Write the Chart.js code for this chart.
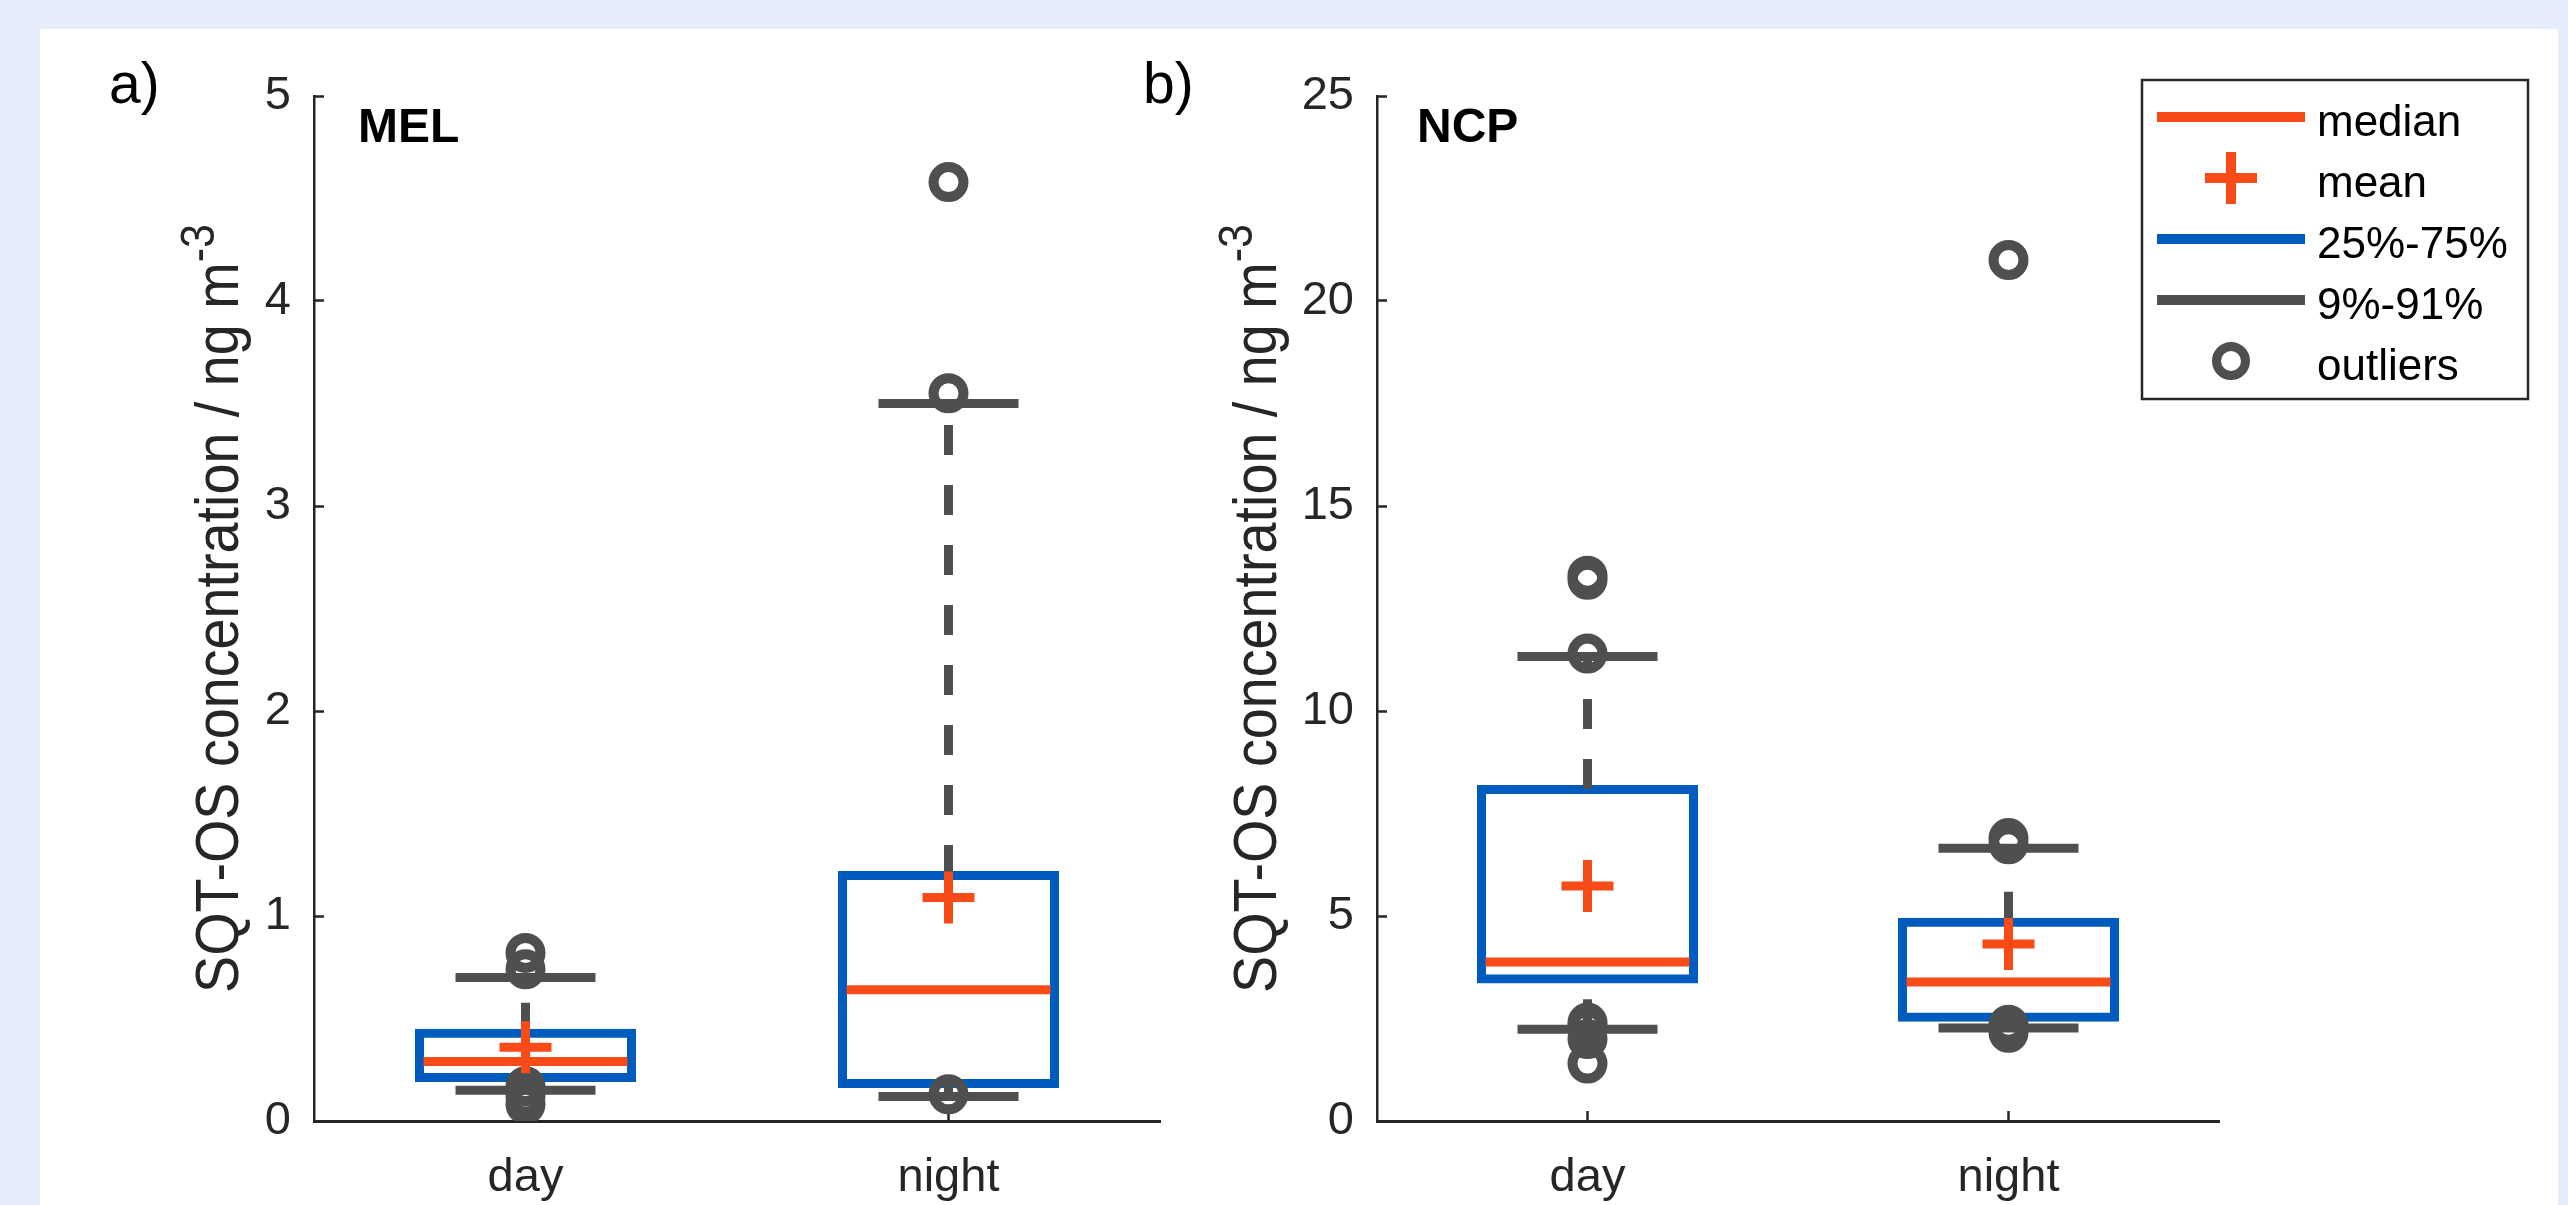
<!DOCTYPE html>
<html>
<head>
<meta charset="utf-8">
<title>SQT-OS concentration, MEL and NCP</title>
<script src="https://cdn.jsdelivr.net/npm/chart.js@4.4.1/dist/chart.umd.min.js"></script>
<style>
  html, body { margin: 0; padding: 0; background: #e6edfa; overflow: hidden; }
  #sheet { position: absolute; left: 40px; top: 29px; width: 2518px; height: 1176px; background: #fff; }
  canvas { position: absolute; left: 0; top: 0; }
</style>
</head>
<body>
<div id="sheet"></div>
<canvas id="melChart" width="2568" height="1205"></canvas>
<canvas id="ncpChart" width="2568" height="1205"></canvas>
<script>
// Box plot statistics
var categories = ['day', 'night'];

// a) MEL
var melQ25 = [0.21, 0.18];
var melQ75 = [0.43, 1.20];
var melMedian = [0.29, 0.64];
var melMean = [0.36, 1.09];
var melLow = [0.15, 0.12];    // 9 %
var melHigh = [0.70, 3.50];   // 91 %
var melOutDay = [0.82, 0.74, 0.17, 0.12, 0.08];
var melOutNight = [4.58, 3.55, 0.13];
var melTicks = [0, 1, 2, 3, 4, 5];

// b) NCP
var ncpQ25 = [3.45, 2.52];
var ncpQ75 = [8.10, 4.86];
var ncpMedian = [3.88, 3.39];
var ncpMean = [5.73, 4.32];
var ncpLow = [2.24, 2.27];
var ncpHigh = [11.33, 6.65];
var ncpOutDay = [13.3, 13.2, 11.4, 2.4, 2.3, 2.0, 1.4];
var ncpOutNight = [21.0, 6.9, 6.75, 2.35, 2.15];
var ncpTicks = [0, 5, 10, 15, 20, 25];

var FONT = '"Liberation Sans", Arial, Helvetica, sans-serif';
var AXIS = '#262626';
var ORANGE = '#f84b18';
var BLUE = '#005bbf';
var GREY = '#4f4f4f';
var LABEL_LENGTH = 769; // the y title is a little condensed in the original

/**
 * Draws panel letter, site name, y label (with superscript) and the legend
 */
var figureText = {
  id: 'figureText',
  afterDraw: function(chart, args, opts) {
    var ctx = chart.ctx;
    var area = chart.chartArea;
    ctx.save();
    ctx.textAlign = 'left';
    ctx.textBaseline = 'alphabetic';
    ctx.fillStyle = '#000';
    ctx.font = '57px ' + FONT;
    ctx.fillText(opts.letter, opts.letterX, 103);
    ctx.font = 'bold 48px ' + FONT;
    ctx.fillText(opts.site, area.left + opts.siteDx, 142);

    // rotated y axis title
    var main = 'SQT-OS concentration / ng m';
    var sup = '-3';
    ctx.font = '62px ' + FONT;
    var w1 = ctx.measureText(main).width;
    ctx.font = '48px ' + FONT;
    var w2 = ctx.measureText(sup).width;
    var squeeze = LABEL_LENGTH / (w1 + w2);
    var cy = (area.top + area.bottom) / 2;
    ctx.save();
    ctx.translate(opts.labelX, cy + LABEL_LENGTH / 2);
    ctx.rotate(-Math.PI / 2);
    ctx.scale(squeeze, 1);
    ctx.fillStyle = AXIS;
    ctx.font = '62px ' + FONT;
    ctx.fillText(main, 0, 0);
    ctx.font = '48px ' + FONT;
    ctx.fillText(sup, w1, -24);
    ctx.restore();

    if (opts.legend) drawLegend(chart, opts.legend);
    ctx.restore();
  }
};

function drawLegend(chart, lg) {
  var ctx = chart.ctx;
  var items = chart.data.datasets.filter(function(ds) {
    return ds.legendRank !== undefined;
  }).sort(function(a, b) { return a.legendRank - b.legendRank; });

  ctx.fillStyle = '#fff';
  ctx.fillRect(lg.x, lg.y, lg.w, lg.h);
  ctx.lineWidth = 2.5;
  ctx.strokeStyle = AXIS;
  ctx.strokeRect(lg.x, lg.y, lg.w, lg.h);

  var cx = lg.x + 89;
  items.forEach(function(ds, i) {
    var y = lg.y + 37 + i * 61;
    var color = ds.pointBorderColor || ds.borderColor;
    ctx.strokeStyle = color;
    ctx.lineCap = 'butt';
    ctx.setLineDash([]);
    ctx.beginPath();
    if (ds.legendSymbol === 'cross') {
      ctx.lineWidth = 10;
      ctx.moveTo(cx - 26, y); ctx.lineTo(cx + 26, y);
      ctx.moveTo(cx, y - 26); ctx.lineTo(cx, y + 26);
    } else if (ds.legendSymbol === 'circle') {
      ctx.lineWidth = 9;
      ctx.arc(cx, y, 14.5, 0, Math.PI * 2);
    } else {
      ctx.lineWidth = 10;
      ctx.moveTo(lg.x + 15, y); ctx.lineTo(lg.x + 163, y);
    }
    ctx.stroke();
    ctx.fillStyle = '#000';
    ctx.font = '44px ' + FONT;
    ctx.fillText(ds.label, lg.x + 175, y + 18.5);
  });
}

function makeDatasets(p) {
  var medians = [], means = [], caps = [], stems = [], outliers = [];
  categories.forEach(function(c, i) {
    medians.push({ x: c, y: p.median[i] });
    means.push({ x: c, y: p.mean[i] });
    caps.push({ x: c, y: p.low[i] }, { x: c, y: p.high[i] });
    // whiskers drawn upwards like the original: low -> q25 and q75 -> high
    stems.push({ x: c, y: p.low[i] }, { x: c, y: p.q25[i] }, { x: c, y: null },
               { x: c, y: p.q75[i] }, { x: c, y: p.high[i] }, { x: c, y: null });
    p.outliers[i].forEach(function(v) { outliers.push({ x: c, y: v }); });
  });
  var boxes = categories.map(function(c, i) { return [p.q25[i], p.q75[i]]; });

  return [
    { type: 'line', label: 'mean', data: means, showLine: false, pointStyle: 'cross',
      pointRadius: 26, pointBorderWidth: 9, borderColor: ORANGE, pointBorderColor: ORANGE,
      order: 0, legendRank: 1, legendSymbol: 'cross' },
    { type: 'line', label: 'median', data: medians, showLine: false, pointStyle: 'line',
      pointRadius: 102, pointBorderWidth: 9, borderColor: ORANGE, pointBorderColor: ORANGE,
      order: 1, legendRank: 0, legendSymbol: 'line' },
    { type: 'line', label: 'outliers', data: outliers, showLine: false, pointStyle: 'circle',
      pointRadius: 15, pointBorderWidth: 10, borderColor: GREY, pointBorderColor: GREY,
      pointBackgroundColor: 'rgba(0,0,0,0)', order: 2, legendRank: 4, legendSymbol: 'circle' },
    { type: 'line', label: '9%-91%', data: caps, showLine: false, pointStyle: 'line',
      pointRadius: 70, pointBorderWidth: 9, borderColor: GREY, pointBorderColor: GREY,
      order: 3, legendRank: 3, legendSymbol: 'line' },
    { type: 'line', label: 'whiskers', data: stems, showLine: true, spanGaps: false,
      borderColor: GREY, borderWidth: 9, borderDash: [30, 30], pointRadius: 0, order: 4 },
    // thin border + inflate so the 9px outline is centred on the quartile values
    { type: 'bar', label: '25%-75%', data: boxes, borderColor: BLUE,
      backgroundColor: 'rgba(0,0,0,0)', borderWidth: 1, inflateAmount: 4,
      borderSkipped: false, barThickness: 213, order: 5, legendRank: 2, legendSymbol: 'line' }
  ];
}

function buildPanel(canvasId, p) {
  var tickFont = { family: FONT, size: 47 };
  return new Chart(document.getElementById(canvasId), {
    type: 'bar',
    data: { labels: categories, datasets: makeDatasets(p) },
    options: {
      responsive: false,
      devicePixelRatio: 1,
      animation: false,
      events: [],
      layout: { autoPadding: false, padding: { top: 96, right: p.padRight, bottom: 0, left: 0 } },
      scales: {
        x: {
          offset: true,
          afterFit: function(s) { s.height = 84; },
          grid: { offset: false, drawOnChartArea: false, tickLength: -10, tickWidth: 2.5, tickColor: AXIS },
          border: { color: AXIS, width: 3 },
          ticks: { color: AXIS, font: tickFont, padding: 39 }
        },
        y: {
          min: p.ticks[0],
          max: p.ticks[p.ticks.length - 1],
          afterBuildTicks: function(s) {
            s.ticks = p.ticks.map(function(v) { return { value: v }; });
          },
          afterFit: function(s) { s.width = p.axisLeft; },
          grid: { drawOnChartArea: false, tickLength: -10, tickWidth: 2.5, tickColor: AXIS },
          border: { color: AXIS, width: 2.5 },
          ticks: { color: AXIS, font: tickFont, padding: 33 }
        }
      },
      plugins: {
        legend: { display: false },
        tooltip: { enabled: false },
        figureText: p.text
      }
    },
    plugins: [figureText]
  });
}

buildPanel('melChart', {
  q25: melQ25, q75: melQ75, median: melMedian, mean: melMean,
  low: melLow, high: melHigh, outliers: [melOutDay, melOutNight], ticks: melTicks,
  axisLeft: 314, padRight: 1408,
  text: { letter: 'a)', letterX: 109, site: 'MEL', siteDx: 44, labelX: 238 }
});

buildPanel('ncpChart', {
  q25: ncpQ25, q75: ncpQ75, median: ncpMedian, mean: ncpMean,
  low: ncpLow, high: ncpHigh, outliers: [ncpOutDay, ncpOutNight], ticks: ncpTicks,
  axisLeft: 1377, padRight: 349,
  text: { letter: 'b)', letterX: 1143, site: 'NCP', siteDx: 40, labelX: 1276,
          legend: { x: 2142, y: 80, w: 386, h: 319 } }
});
</script>
</body>
</html>
